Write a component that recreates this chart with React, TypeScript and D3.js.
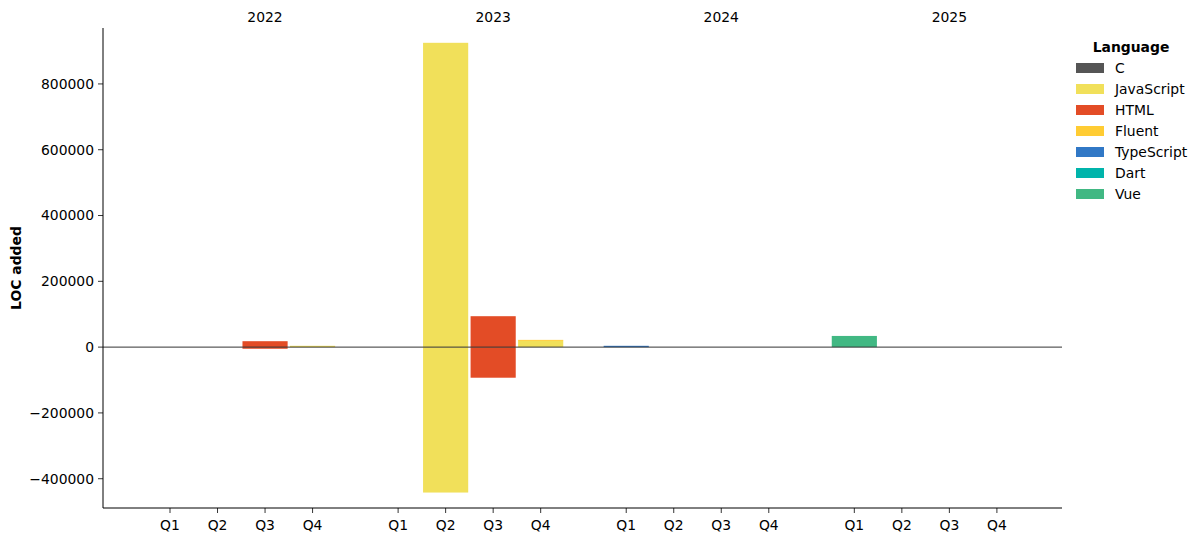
import React from "react";
import * as d3 from "d3";

const years = ["2022", "2023", "2024", "2025"];
const quarters = ["Q1", "Q2", "Q3", "Q4"];
const languages = ["C", "JavaScript", "HTML", "Fluent", "TypeScript", "Dart", "Vue"];
const langColors = ["#555555", "#f1e05a", "#e34c26", "#ffcc33", "#3178c6", "#00b4ab", "#41b883"];

// 16 quarters: 2022 Q1..Q4, 2023 Q1..Q4, 2024 Q1..Q4, 2025 Q1..Q4
const addedC = [0, 0, 0, 0, 0, 0, 0, 0, 0, 0, 0, 0, 0, 0, 0, 0];
const addedJavaScript = [0, 0, 0, 4000, 0, 925000, 0, 19000, 0, 0, 0, 0, 0, 0, 0, 0];
const addedHTML = [0, 0, 18000, 0, 0, 0, 94000, 0, 0, 0, 0, 0, 0, 0, 0, 0];
const addedFluent = [0, 0, 0, 0, 0, 0, 0, 3000, 0, 0, 0, 0, 0, 0, 0, 0];
const addedTypeScript = [0, 0, 0, 0, 0, 0, 0, 0, 4000, 0, 0, 0, 0, 0, 0, 0];
const addedDart = [0, 0, 0, 0, 0, 0, 0, 0, 0, 0, 0, 0, 0, 0, 0, 0];
const addedVue = [0, 0, 0, 0, 0, 0, 0, 0, 0, 0, 0, 0, 34000, 0, 0, 0];

const removedC = [0, 0, 0, 0, 0, 0, 0, 0, 0, 0, 0, 0, 0, 0, 0, 0];
const removedJavaScript = [0, 0, 0, 0, 0, -442000, 0, 0, 0, 0, 0, 0, 0, 0, 0, 0];
const removedHTML = [0, 0, -5000, 0, 0, 0, -93000, 0, 0, 0, 0, 0, 0, 0, 0, 0];
const removedFluent = [0, 0, 0, 0, 0, 0, 0, 0, 0, 0, 0, 0, 0, 0, 0, 0];
const removedTypeScript = [0, 0, 0, 0, 0, 0, 0, 0, 0, 0, 0, 0, 0, 0, 0, 0];
const removedDart = [0, 0, 0, 0, 0, 0, 0, 0, 0, 0, 0, 0, 0, 0, 0, 0];
const removedVue = [0, 0, 0, 0, 0, 0, 0, 0, 0, 0, 0, 0, 0, 0, 0, 0];

const yTicks = [-400000, -200000, 0, 200000, 400000, 600000, 800000];

const addedSeries = [addedC, addedJavaScript, addedHTML, addedFluent, addedTypeScript, addedDart, addedVue];
const removedSeries = [removedC, removedJavaScript, removedHTML, removedFluent, removedTypeScript, removedDart, removedVue];

const W = 1202;
const H = 542;
const left = 103;
const right = 1062;
const top = 28;
const bottom = 508;
const groupStep = 4.8;
const barWidth = 0.95;
const font = "DejaVu Sans, sans-serif";
const fs = 13.9;

export default function App() {
  const x = d3.scaleLinear().domain([-1.41, 18.77]).range([left, right]);
  const y = d3.scaleLinear().domain([-489000, 970000]).range([bottom, top]);
  const pos = (g: number, q: number) => g * groupStep + q;
  const minus = (v: number) => (v < 0 ? "\u2212" + Math.abs(v) : String(v));

  const rects: JSX.Element[] = [];
  years.forEach((_, g) => {
    quarters.forEach((_, q) => {
      const i = g * 4 + q;
      let posBase = 0;
      let negBase = 0;
      languages.forEach((lang, li) => {
        const a = addedSeries[li][i];
        if (a > 0) {
          const y0 = y(posBase);
          const y1 = y(posBase + a);
          rects.push(
            <rect key={`a-${lang}-${i}`} x={x(pos(g, q) - barWidth / 2)} width={x(barWidth) - x(0)}
              y={y1} height={y0 - y1} fill={langColors[li]} />
          );
          posBase += a;
        }
        const r = removedSeries[li][i];
        if (r < 0) {
          const y0 = y(negBase);
          const y1 = y(negBase + r);
          rects.push(
            <rect key={`r-${lang}-${i}`} x={x(pos(g, q) - barWidth / 2)} width={x(barWidth) - x(0)}
              y={y0} height={y1 - y0} fill={langColors[li]} />
          );
          negBase += r;
        }
      });
    });
  });

  return (
    <svg width={W} height={H} style={{ position: "absolute", left: 0, top: 0, background: "#fff" }}
      fontFamily={font}>
      {rects}
      <line x1={left} x2={right} y1={y(0)} y2={y(0)} stroke="#333" strokeWidth={1} />
      {/* spines */}
      <line x1={left} x2={left} y1={top} y2={bottom} stroke="#000" strokeWidth={1} />
      <line x1={left} x2={right} y1={bottom} y2={bottom} stroke="#000" strokeWidth={1} />
      {/* y ticks */}
      {yTicks.map((t) => (
        <g key={`yt-${t}`}>
          <line x1={left - 5} x2={left} y1={y(t)} y2={y(t)} stroke="#000" strokeWidth={0.8} />
          <text x={left - 9} y={y(t)} dy="0.35em" textAnchor="end" fontSize={fs} fill="#000">{minus(t)}</text>
        </g>
      ))}
      {/* x ticks */}
      {years.map((yr, g) => (
        <g key={`yr-${yr}`}>
          {quarters.map((qq, q) => (
            <g key={`xt-${yr}-${qq}`}>
              <line x1={x(pos(g, q))} x2={x(pos(g, q))} y1={bottom} y2={bottom + 5} stroke="#000" strokeWidth={0.8} />
              <text x={x(pos(g, q))} y={bottom + 17} dy="0.35em" textAnchor="middle" fontSize={fs} fill="#000">{qq}</text>
            </g>
          ))}
          <text x={x(pos(g, 2))} y={17} dy="0.35em" textAnchor="middle" fontSize={fs} fill="#000">{yr}</text>
        </g>
      ))}
      <text transform={`translate(16,${(top + bottom) / 2}) rotate(-90)`} dy="0.35em" textAnchor="middle"
        fontSize={fs} fontWeight="bold" fill="#000">LOC added</text>
      {/* legend */}
      <text x={1131} y={47} dy="0.35em" textAnchor="middle" fontSize={fs} fontWeight="bold" fill="#000">Language</text>
      {languages.map((lang, li) => (
        <g key={`lg-${lang}`}>
          <rect x={1076} y={68 + li * 21 - 5} width={28} height={10} fill={langColors[li]} />
          <text x={1115} y={68 + li * 21} dy="0.35em" fontSize={fs} fill="#000">{lang}</text>
        </g>
      ))}
    </svg>
  );
}
